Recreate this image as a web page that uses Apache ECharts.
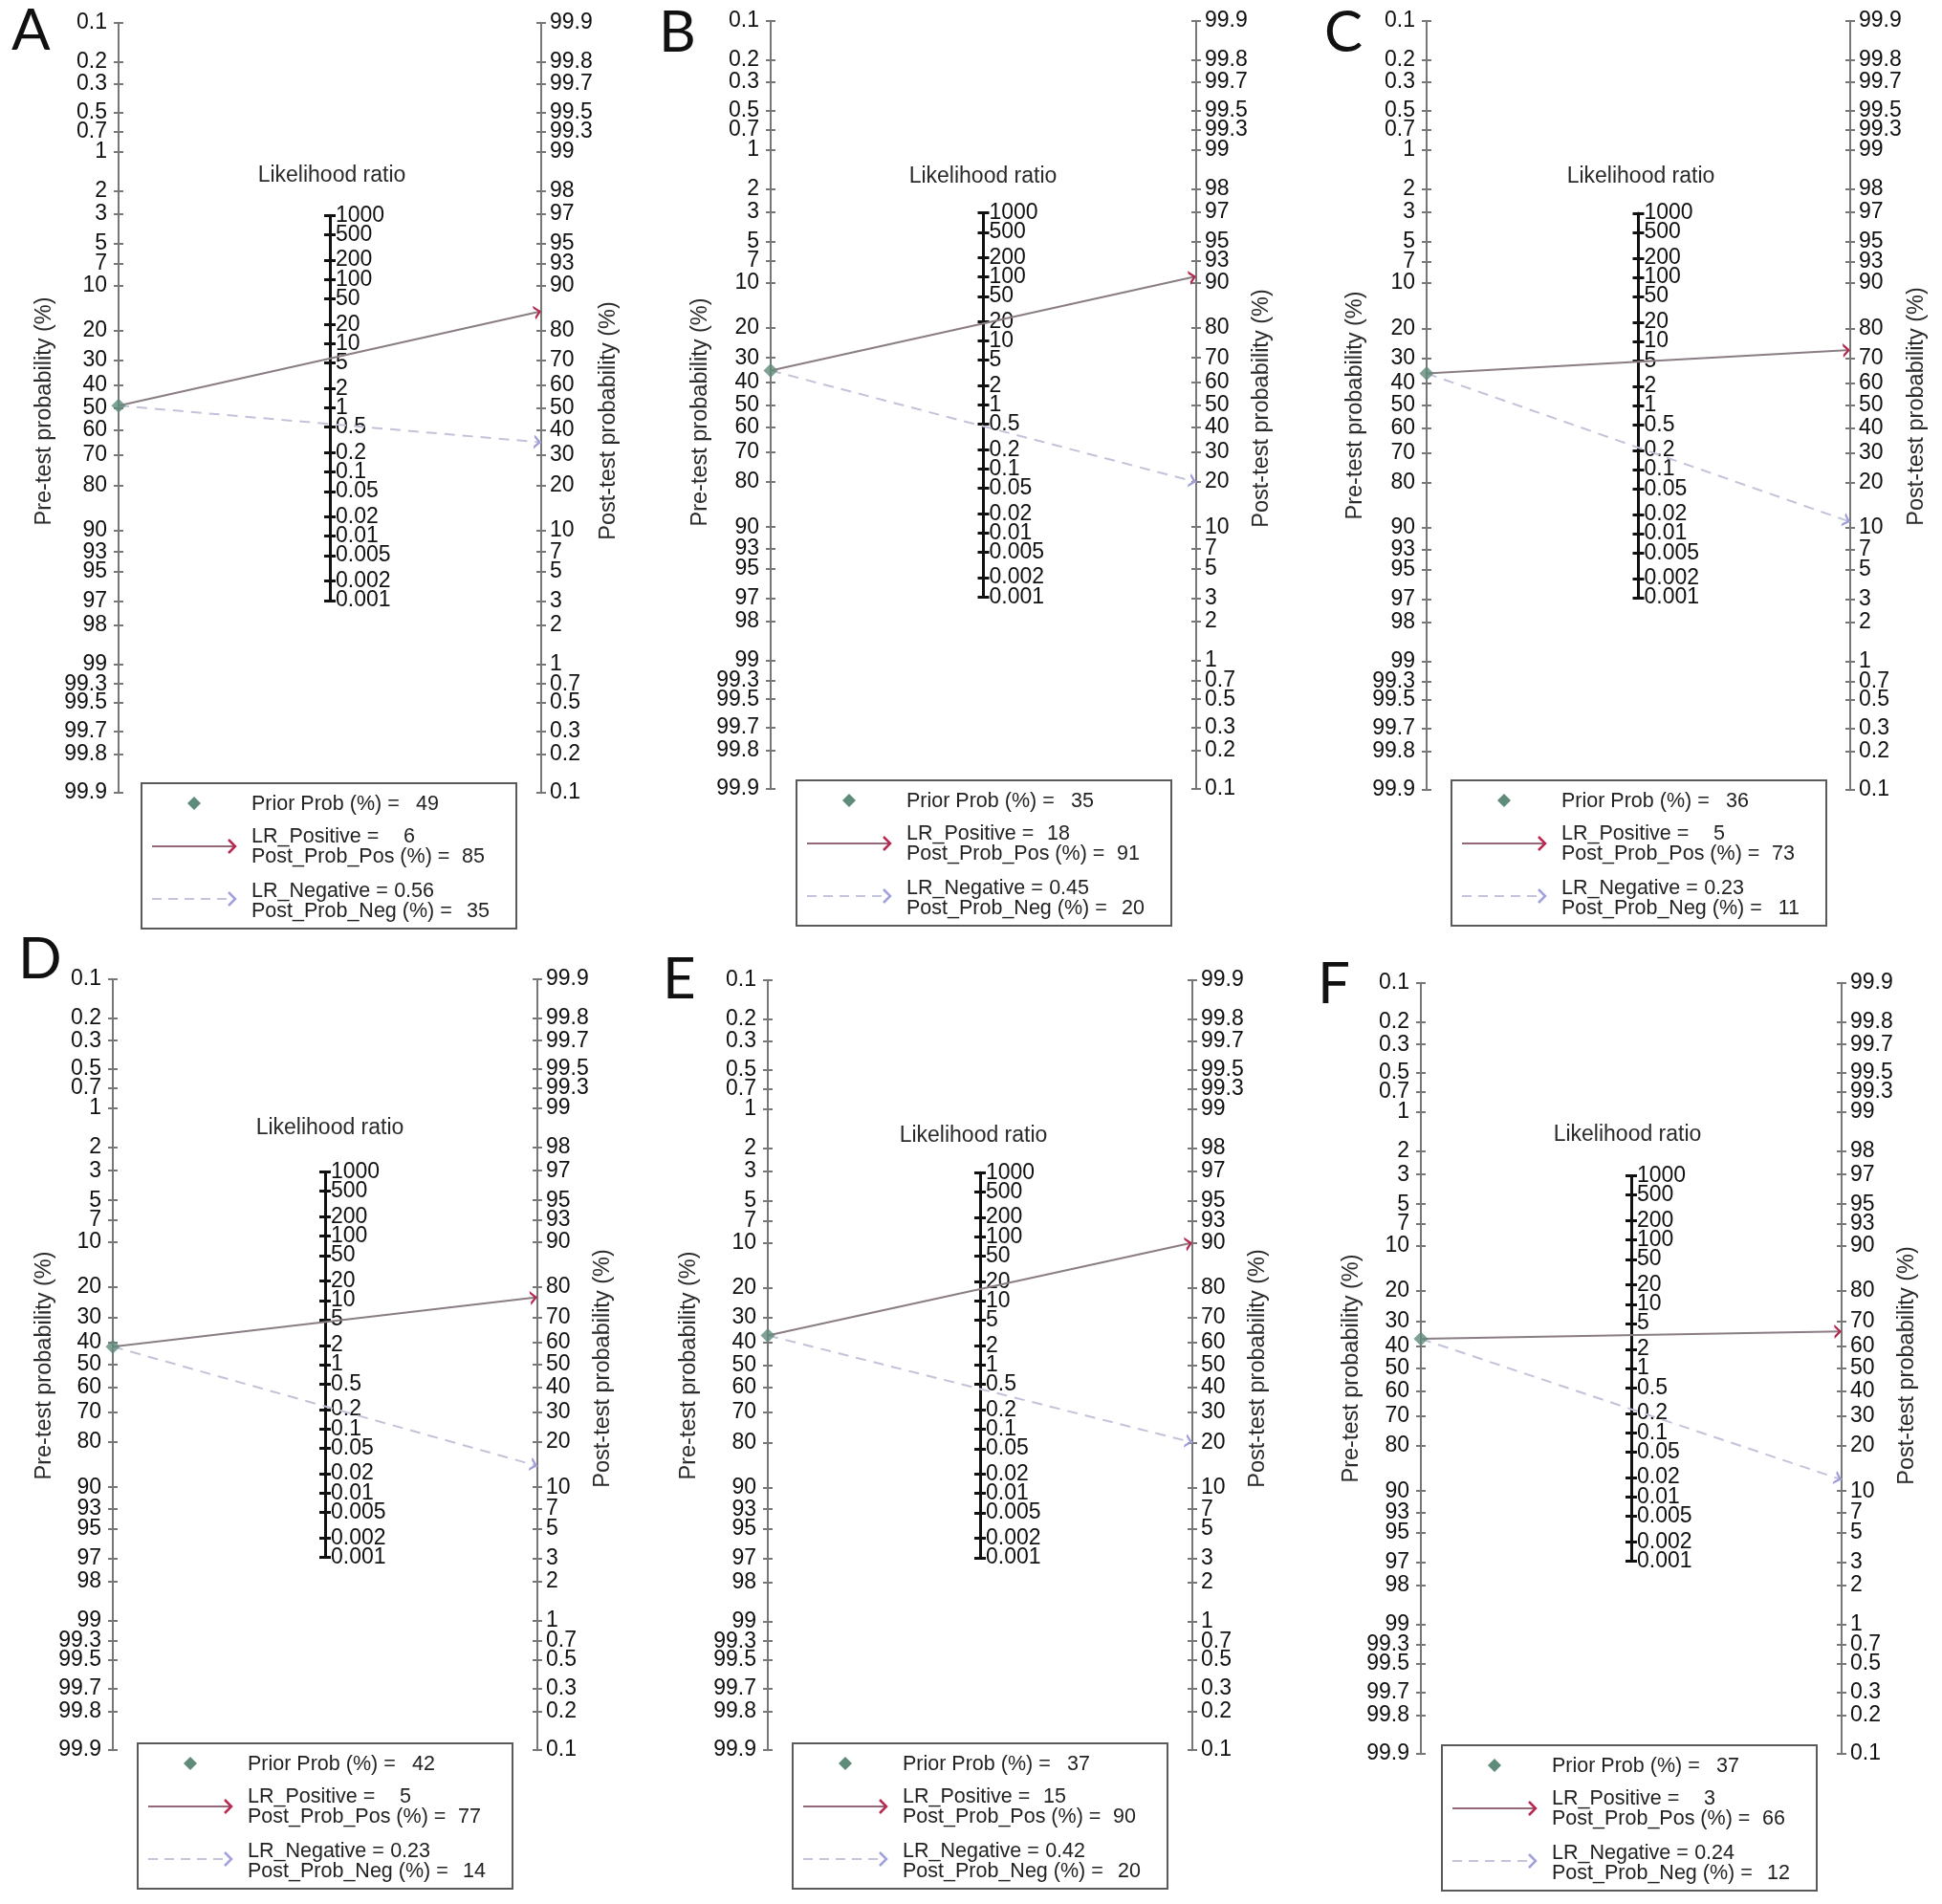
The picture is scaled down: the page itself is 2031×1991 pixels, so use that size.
<!DOCTYPE html>
<html><head><meta charset="utf-8">
<script src="https://cdn.jsdelivr.net/npm/echarts@6/dist/echarts.min.js"></script>
<style>html,body{margin:0;padding:0;background:#fff}#c{width:2031px;height:1991px}</style>
</head><body><div id="c"></div>
<script>
// ---- data ----
const panelLetters = ['A', 'B', 'C', 'D', 'E', 'F'];
const priorProb   = [49, 35, 36, 42, 37, 37];
const lrPositive  = [6, 18, 5, 5, 15, 3];
const postProbPos = [85, 91, 73, 77, 90, 66];
const lrNegative  = [0.56, 0.45, 0.23, 0.23, 0.42, 0.24];
const postProbNeg = [35, 20, 11, 14, 20, 12];
const preTicks  = [0.1, 0.2, 0.3, 0.5, 0.7, 1, 2, 3, 5, 7, 10, 20, 30, 40, 50, 60, 70, 80, 90, 93, 95, 97, 98, 99, 99.3, 99.5, 99.7, 99.8, 99.9];
const postTicks = [99.9, 99.8, 99.7, 99.5, 99.3, 99, 98, 97, 95, 93, 90, 80, 70, 60, 50, 40, 30, 20, 10, 7, 5, 3, 2, 1, 0.7, 0.5, 0.3, 0.2, 0.1];
const lrTicks   = [1000, 500, 200, 100, 50, 20, 10, 5, 2, 1, 0.5, 0.2, 0.1, 0.05, 0.02, 0.01, 0.005, 0.002, 0.001];

// ---- layout (pixels) ----
const layout = [
  {l:124, r:566, t:24, b:829, letter:[12,33], lr:[347,184], pre:[47,430], post:[637,440], leg:[148,819]},
  {l:806, r:1251, t:22, b:825, letter:[689,35], lr:[1028,185], pre:[733,431], post:[1320,427], leg:[833,816]},
  {l:1492, r:1935, t:22, b:826, letter:[1385,35], lr:[1716,185], pre:[1418,424], post:[2005,425], leg:[1518,816]},
  {l:118, r:562, t:1024, b:1830, letter:[19,1004], lr:[345,1180], pre:[47,1428], post:[631,1431], leg:[144,1823]},
  {l:803, r:1247, t:1025, b:1830, letter:[693,1025], lr:[1018,1188], pre:[721,1428], post:[1316,1431], leg:[829,1823]},
  {l:1486, r:1926, t:1028, b:1834, letter:[1378,1030], lr:[1702,1187], pre:[1414,1431], post:[1995,1428], leg:[1508,1825]}
];

const FONT = '"Liberation Sans", Arial, Helvetica, sans-serif';
const TICKCOL = '#101010';
const AXCOL = '#777777';
const logit = p => Math.log(p / (1 - p));
const LMAX = Math.log(999);
const LRMAX = Math.log(1000);
const EPS = 0.003;

const preVals = preTicks.map(p => -logit(p / 100));
const postVals = postTicks.map(p => logit(p / 100));
const lrVals = lrTicks.map(v => Math.log(v));
const lrValsA = lrVals.filter((v, j) => j % 2 === 0);
const lrValsB = lrVals.filter((v, j) => j % 2 === 1);

function finder(vals, labels) {
  return function (v) {
    let bi = 0, bd = Infinity;
    for (let i = 0; i < vals.length; i++) {
      const d = Math.abs(vals[i] - v);
      if (d < bd) { bd = d; bi = i; }
    }
    return String(labels[bi]);
  };
}

const chevron = 'path://M5,0 L5.02,0.03 L4.98,0.03 Z M0,10 L5,5 L10,10 L7.9,10 L5,7.1 L2.1,10 Z';

const grid = [], xAxis = [], yAxis = [], series = [], graphic = [];

layout.forEach((g, i) => {
  const H = g.b - g.t;
  const k = H / (2 * LMAX);
  const midX = (g.l + g.r) / 2;
  const cy = (g.t + g.b) / 2;
  const mh = (LRMAX + EPS) * k;
  const gMain = grid.length;
  grid.push({left: g.l, top: g.t - EPS * k, width: g.r - g.l, height: H + 2 * EPS * k, containLabel: false, outerBoundsMode: 'none'});
  const gMid = grid.length;
  grid.push({left: midX, top: cy - mh / 2, width: 10, height: mh, containLabel: false, outerBoundsMode: 'none'});
  const xMain = xAxis.length;
  xAxis.push({gridIndex: gMain, type: 'value', min: 0, max: 1, show: false});
  xAxis.push({gridIndex: gMid, type: 'value', min: 0, max: 1, show: false});

  const baseY = (gi, tickVals, labVals, labels, pos, lineStyle, tickLen, tickInside, showLine, showLabel, fontSize, margin, inside, mn, mx) => ({
    gridIndex: gi, type: 'value', min: mn, max: mx, position: pos,
    splitLine: {show: false},
    axisLine: {show: showLine, onZero: false, lineStyle: lineStyle},
    axisTick: {show: true, inside: tickInside, length: tickLen, customValues: tickVals, lineStyle: lineStyle},
    axisLabel: {show: showLabel, customValues: labVals, formatter: finder(lrVals.length === labels.length ? lrVals : (pos === 'left' ? preVals : postVals), labels), inside: inside,
      showMinLabel: true, showMaxLabel: true, hideOverlap: false,
      margin: margin, fontSize: fontSize, color: TICKCOL, fontFamily: FONT},
    z: 2
  });
  const sideStyle = {color: AXCOL, width: 2};
  const midStyle = {color: '#111111', width: 3};
  const yLeft = yAxis.length;
  const m1 = -LMAX - EPS, M1 = LMAX + EPS;
  const m2 = -LRMAX - EPS, M2 = LRMAX + EPS;
  yAxis.push(baseY(gMain, preVals, preVals, preTicks, 'left', sideStyle, 5, false, true, true, 23, 12, false, m1, M1));
  yAxis.push(baseY(gMain, preVals, preVals, preTicks, 'left', sideStyle, 5, true, false, false, 23, 12, false, m1, M1));
  yAxis.push(baseY(gMain, postVals, postVals, postTicks, 'right', sideStyle, 5, false, true, true, 23, 9, false, m1, M1));
  yAxis.push(baseY(gMain, postVals, postVals, postTicks, 'right', sideStyle, 5, true, false, false, 23, 9, false, m1, M1));
  yAxis.push(baseY(gMid, lrVals, lrValsA, lrTicks, 'left', midStyle, 6, false, true, true, 23, 6, true, m2, M2));
  yAxis.push(baseY(gMid, lrVals, lrValsB, lrTicks, 'left', midStyle, 6, true, false, true, 23, 6, true, m2, M2));

  const yPrior = -logit(priorProb[i] / 100);
  const yPos = logit(postProbPos[i] / 100);
  const yNeg = logit(postProbNeg[i] / 100);
  const common = {type: 'lines', coordinateSystem: 'cartesian2d', xAxisIndex: xMain, yAxisIndex: yLeft, silent: true, animation: false};
  series.push(Object.assign({}, common, {
    data: [{coords: [[0, yPrior], [1, yNeg]]}],
    symbol: 'none', lineStyle: {color: '#c2c3d8', width: 2, type: [11, 8], opacity: 1}, z: 3
  }));
  series.push(Object.assign({}, common, {
    data: [{coords: [[0, yPrior], [1, yNeg]]}],
    symbol: ['none', chevron], symbolSize: 15, lineStyle: {color: '#9d9dda', width: 0, opacity: 1}, z: 4
  }));
  series.push(Object.assign({}, common, {
    data: [{coords: [[0, yPrior], [1, yPos]]}],
    symbol: 'none', lineStyle: {color: '#8a7d85', width: 2, opacity: 1}, z: 3
  }));
  series.push(Object.assign({}, common, {
    data: [{coords: [[0, yPrior], [1, yPos]]}],
    symbol: ['none', chevron], symbolSize: 15, lineStyle: {color: '#b3284d', width: 0, opacity: 1}, z: 4
  }));
  series.push({type: 'scatter', xAxisIndex: xMain, yAxisIndex: yLeft, data: [[0, yPrior]],
    symbol: 'diamond', symbolSize: 15, itemStyle: {color: '#5f8b7b'}, z: 5, silent: true, animation: false});

  // panel letter
  graphic.push({type: 'text', x: g.letter[0], y: g.letter[1], style: {text: panelLetters[i],
    font: '60px Lato, "Open Sans", sans-serif', fill: '#111', textAlign: 'left', textVerticalAlign: 'middle'}});
  // LR title
  graphic.push({type: 'text', x: g.lr[0], y: g.lr[1], style: {text: 'Likelihood ratio',
    font: '23px ' + FONT, fill: '#2a2a2a', textAlign: 'center', textVerticalAlign: 'middle'}});
  // axis titles
  graphic.push({type: 'text', x: g.pre[0], y: g.pre[1], rotation: Math.PI / 2, style: {text: 'Pre-test probability (%)',
    font: '23.5px ' + FONT, fill: '#2a2a2a', textAlign: 'center', textVerticalAlign: 'middle'}});
  graphic.push({type: 'text', x: g.post[0], y: g.post[1], rotation: Math.PI / 2, style: {text: 'Post-test probability (%)',
    font: '23.5px ' + FONT, fill: '#2a2a2a', textAlign: 'center', textVerticalAlign: 'middle'}});

  // legend box
  const lx = g.leg[0], ly = g.leg[1];
  const txt = (s, x, y, align) => ({type: 'text', x: lx + x, y: ly + y, z: 20, style: {text: s,
    font: '21.5px ' + FONT, fill: '#222', textAlign: align || 'left', textVerticalAlign: 'middle'}});
  graphic.push({type: 'rect', z: 10, shape: {x: lx, y: ly, width: 392, height: 152},
    style: {fill: '#fff', stroke: '#5a5a5a', lineWidth: 2}});
  graphic.push({type: 'polygon', z: 20, shape: {points: [[lx + 55, ly + 14], [lx + 62, ly + 21], [lx + 55, ly + 28], [lx + 48, ly + 21]]},
    style: {fill: '#5f8b7b'}});
  graphic.push(txt('Prior Prob (%) =', 115, 22));
  graphic.push(txt(String(priorProb[i]), 311, 22, 'right'));
  graphic.push(txt('LR_Positive =', 115, 56));
  graphic.push(txt(String(lrPositive[i]), 286, 56, 'right'));
  graphic.push(txt('Post_Prob_Pos (%) =', 115, 77));
  graphic.push(txt(String(postProbPos[i]), 359, 77, 'right'));
  graphic.push(txt('LR_Negative =', 115, 113));
  graphic.push(txt(String(lrNegative[i]), 306, 113, 'right'));
  graphic.push(txt('Post_Prob_Neg (%) =', 115, 134));
  graphic.push(txt(String(postProbNeg[i]), 364, 134, 'right'));
  graphic.push({type: 'line', z: 20, shape: {x1: lx + 11, y1: ly + 66, x2: lx + 97, y2: ly + 66}, style: {stroke: '#94687a', lineWidth: 2}});
  graphic.push({type: 'polyline', z: 20, shape: {points: [[lx + 91, ly + 59], [lx + 98, ly + 66], [lx + 91, ly + 73]]}, style: {stroke: '#b8284f', lineWidth: 2.5, fill: null}});
  graphic.push({type: 'line', z: 20, shape: {x1: lx + 11, y1: ly + 121, x2: lx + 97, y2: ly + 121}, style: {stroke: '#c4c5da', lineWidth: 2, lineDash: [10, 7]}});
  graphic.push({type: 'polyline', z: 20, shape: {points: [[lx + 91, ly + 114], [lx + 98, ly + 121], [lx + 91, ly + 128]]}, style: {stroke: '#a0a0dc', lineWidth: 2.5, fill: null}});
});

const chart = echarts.init(document.getElementById('c'), null, {renderer: 'canvas'});
chart.setOption({backgroundColor: '#fff', animation: false, grid, xAxis, yAxis, series, graphic});
</script></body></html>
